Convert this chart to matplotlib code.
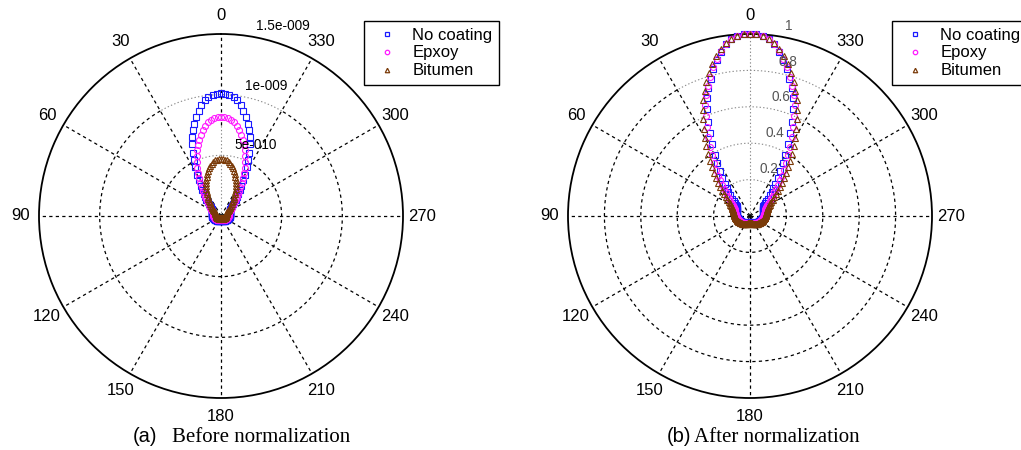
import numpy as np
import matplotlib
matplotlib.use("Agg")
import matplotlib.pyplot as plt
from matplotlib.lines import Line2D
import matplotlib.transforms as mtransforms

# ---------------------------------------------------------------- data
# Beam-pattern sample angles (degrees), 2 degree steps
angles_deg = np.arange(0, 360, 2)

# Normalised radiation patterns for each coating condition
no_coating = [
    1.000, 0.998, 0.990, 0.977, 0.952, 0.917, 0.877, 0.832, 0.785, 0.740,
    0.690, 0.635, 0.567, 0.505, 0.450, 0.390, 0.345, 0.297, 0.258, 0.225,
    0.200, 0.178, 0.157, 0.138, 0.121, 0.108, 0.097, 0.091, 0.087, 0.084,
    0.082, 0.081, 0.080, 0.079, 0.079, 0.078, 0.078, 0.077, 0.077, 0.076,
    0.076, 0.075, 0.075, 0.074, 0.074, 0.073, 0.072, 0.071, 0.070, 0.069,
    0.068, 0.067, 0.066, 0.065, 0.064, 0.063, 0.062, 0.061, 0.060, 0.059,
    0.058, 0.057, 0.056, 0.055, 0.054, 0.053, 0.052, 0.051, 0.050, 0.049,
    0.048, 0.047, 0.046, 0.045, 0.044, 0.043, 0.042, 0.041, 0.040, 0.040,
    0.039, 0.039, 0.038, 0.038, 0.037, 0.037, 0.036, 0.036, 0.036, 0.035,
    0.035,
    0.035, 0.036, 0.036, 0.036, 0.037, 0.037, 0.038, 0.038, 0.039, 0.039,
    0.040, 0.040, 0.041, 0.042, 0.043, 0.044, 0.045, 0.046, 0.047, 0.048,
    0.049, 0.050, 0.051, 0.052, 0.053, 0.054, 0.055, 0.056, 0.057, 0.058,
    0.059, 0.060, 0.061, 0.062, 0.063, 0.064, 0.065, 0.066, 0.067, 0.068,
    0.069, 0.070, 0.071, 0.072, 0.073, 0.074, 0.074, 0.075, 0.075, 0.076,
    0.076, 0.077, 0.077, 0.078, 0.078, 0.079, 0.079, 0.080, 0.081, 0.082,
    0.084, 0.087, 0.091, 0.097, 0.108, 0.121, 0.138, 0.157, 0.178, 0.200,
    0.225, 0.258, 0.297, 0.345, 0.390, 0.450, 0.505, 0.567, 0.635, 0.690,
    0.740, 0.785, 0.832, 0.877, 0.917, 0.952, 0.977, 0.990, 0.998,
]

epoxy = [
    1.000, 0.998, 0.990, 0.978, 0.955, 0.922, 0.884, 0.842, 0.797, 0.752,
    0.705, 0.655, 0.600, 0.545, 0.492, 0.440, 0.395, 0.352, 0.315, 0.282,
    0.255, 0.230, 0.207, 0.186, 0.167, 0.150, 0.137, 0.126, 0.117, 0.110,
    0.104, 0.099, 0.095, 0.092, 0.089, 0.087, 0.085, 0.084, 0.083, 0.082,
    0.081, 0.080, 0.079, 0.078, 0.077, 0.076, 0.075, 0.074, 0.073, 0.072,
    0.071, 0.070, 0.069, 0.068, 0.067, 0.066, 0.065, 0.064, 0.063, 0.062,
    0.061, 0.060, 0.059, 0.058, 0.057, 0.056, 0.055, 0.054, 0.053, 0.052,
    0.051, 0.050, 0.049, 0.048, 0.047, 0.046, 0.045, 0.044, 0.044, 0.043,
    0.043, 0.042, 0.042, 0.041, 0.041, 0.040, 0.040, 0.040, 0.040, 0.040,
    0.040,
    0.040, 0.040, 0.040, 0.040, 0.040, 0.041, 0.041, 0.042, 0.042, 0.043,
    0.043, 0.044, 0.044, 0.045, 0.046, 0.047, 0.048, 0.049, 0.050, 0.051,
    0.052, 0.053, 0.054, 0.055, 0.056, 0.057, 0.058, 0.059, 0.060, 0.061,
    0.062, 0.063, 0.064, 0.065, 0.066, 0.067, 0.068, 0.069, 0.070, 0.071,
    0.072, 0.073, 0.074, 0.075, 0.076, 0.077, 0.078, 0.079, 0.080, 0.081,
    0.082, 0.083, 0.084, 0.085, 0.087, 0.089, 0.092, 0.095, 0.099, 0.104,
    0.110, 0.117, 0.126, 0.137, 0.150, 0.167, 0.186, 0.207, 0.230, 0.255,
    0.282, 0.315, 0.352, 0.395, 0.440, 0.492, 0.545, 0.600, 0.655, 0.705,
    0.752, 0.797, 0.842, 0.884, 0.922, 0.955, 0.978, 0.990, 0.998,
]

bitumen = [
    1.000, 0.998, 0.991, 0.980, 0.960, 0.932, 0.898, 0.860, 0.818, 0.775,
    0.730, 0.685, 0.638, 0.590, 0.543, 0.495, 0.452, 0.412, 0.376, 0.342,
    0.310, 0.280, 0.252, 0.228, 0.205, 0.185, 0.168, 0.154, 0.142, 0.132,
    0.124, 0.118, 0.113, 0.109, 0.105, 0.102, 0.099, 0.097, 0.095, 0.093,
    0.091, 0.090, 0.089, 0.088, 0.087, 0.086, 0.085, 0.084, 0.083, 0.082,
    0.080, 0.079, 0.078, 0.077, 0.076, 0.074, 0.073, 0.072, 0.071, 0.070,
    0.068, 0.067, 0.066, 0.065, 0.064, 0.062, 0.061, 0.060, 0.059, 0.058,
    0.056, 0.055, 0.054, 0.053, 0.052, 0.050, 0.049, 0.048, 0.047, 0.046,
    0.045, 0.044, 0.043, 0.042, 0.041, 0.040, 0.039, 0.038, 0.038, 0.037,
    0.037,
    0.037, 0.038, 0.038, 0.039, 0.040, 0.041, 0.042, 0.043, 0.044, 0.045,
    0.046, 0.047, 0.048, 0.049, 0.050, 0.052, 0.053, 0.054, 0.055, 0.056,
    0.058, 0.059, 0.060, 0.061, 0.062, 0.064, 0.065, 0.066, 0.067, 0.068,
    0.070, 0.071, 0.072, 0.073, 0.074, 0.076, 0.077, 0.078, 0.079, 0.080,
    0.082, 0.083, 0.084, 0.085, 0.086, 0.087, 0.088, 0.089, 0.090, 0.091,
    0.093, 0.095, 0.097, 0.099, 0.102, 0.105, 0.109, 0.113, 0.118, 0.124,
    0.132, 0.142, 0.154, 0.168, 0.185, 0.205, 0.228, 0.252, 0.280, 0.310,
    0.342, 0.376, 0.412, 0.452, 0.495, 0.543, 0.590, 0.638, 0.685, 0.730,
    0.775, 0.818, 0.860, 0.898, 0.932, 0.960, 0.980, 0.991, 0.998,
]

# Peak (on-axis) amplitudes before normalisation
peak_values = [1.01e-9, 0.815e-9, 0.47e-9]

left_labels = ["No coating", "Epxoy", "Bitumen"]
right_labels = ["No coating", "Epoxy", "Bitumen"]

theta_ticks = list(range(0, 360, 30))
left_rings = [5e-10, 1e-9, 1.5e-9]
left_ring_labels = ["5e-010", "1e-009", "1.5e-009"]
right_rings = [0.2, 0.4, 0.6, 0.8, 1.0]
right_ring_labels = ["0.2", "0.4", "0.6", "0.8", "1"]

captions = [("(a)", "Before normalization"), ("(b)", "After normalization")]

# ---------------------------------------------------------------- style
SANS = "Liberation Sans"
SERIF = "Liberation Serif"
series_style = [
    dict(marker="s", color="#1a1aff"),
    dict(marker="o", color="#ff1aff"),
    dict(marker="^", color="#7a3a08"),
]

W, H = 1021, 450
fig = plt.figure(figsize=(W / 100, H / 100), dpi=100)

R_PX = 182
def axes_rect(cx, cy):
    return [(cx - R_PX) / W, (H - cy - R_PX) / H, 2 * R_PX / W, 2 * R_PX / H]

ax_l = fig.add_axes(axes_rect(221, 216), projection="polar")
ax_r = fig.add_axes(axes_rect(750, 216), projection="polar")

theta = np.deg2rad(angles_deg)
patterns = [np.asarray(no_coating), np.asarray(epoxy), np.asarray(bitumen)]
left_data = [p * pk for p, pk in zip(patterns, peak_values)]
right_data = patterns


def setup_polar(ax, rmax, rings, ring_labels, label_color, gray_spoke_r, label_size):
    ax.set_theta_zero_location("N")
    ax.set_theta_direction(1)
    ax.set_ylim(0, rmax)
    ax.set_xticks([])
    ax.set_yticks([])
    ax.grid(False)
    ax.spines["polar"].set_linewidth(1.3)
    ax.spines["polar"].set_color("black")

    dash = dict(color="black", lw=0.9, linestyle=(0, (2.6, 2.6)), zorder=1)
    dot = dict(color="#8a8a8a", lw=0.8, linestyle=(0, (1.2, 2.0)), zorder=1)

    # rings: grey dotted inside the +/-30 degree sector, dashed elsewhere
    for rv in rings[:-1]:
        t_out = np.deg2rad(np.linspace(30, 330, 400))
        ax.plot(t_out, np.full_like(t_out, rv), **dash)
        t_in = np.deg2rad(np.linspace(-30, 30, 120))
        ax.plot(t_in, np.full_like(t_in, rv), **dot)

    # spokes
    for a in theta_ticks:
        t = np.deg2rad(a)
        if a == 0:
            ax.plot([t, t], [0, gray_spoke_r], **dot)
            if gray_spoke_r < rmax:
                ax.plot([t, t], [gray_spoke_r, rmax], **dash)
        else:
            ax.plot([t, t], [0, rmax], **dash)

    # angle labels
    for a in theta_ticks:
        ax.text(np.deg2rad(a), rmax * 1.104, str(a), ha="center", va="center",
                fontsize=12, family=SANS, clip_on=False)

    # ring value labels
    offs = mtransforms.offset_copy(ax.transData, fig=fig, x=3, y=7, units="dots")
    for rv, lab in zip(rings, ring_labels):
        ax.text(np.deg2rad(-10), rv, lab, ha="left", va="baseline",
                fontsize=label_size, family=SANS, color=label_color,
                transform=offs, clip_on=False, zorder=4)


setup_polar(ax_l, 1.5e-9, left_rings, left_ring_labels, "black", 0.75e-9, 9.8)
setup_polar(ax_r, 1.0, right_rings, right_ring_labels, "#555555", 1.0, 9.8)


def draw_series(ax, data):
    for d, st in zip(data, series_style):
        ax.plot(theta, d, linestyle="none", marker=st["marker"], ms=4.3,
                mfc="none", mec=st["color"], mew=0.8, clip_on=False, zorder=3)


draw_series(ax_l, left_data)
draw_series(ax_r, right_data)


def add_legend(labels, x_left):
    handles = [Line2D([], [], linestyle="none", marker=st["marker"], ms=3.2,
                      mfc="none", mec=st["color"], mew=0.9)
               for st in series_style]
    leg = fig.legend(handles, labels, loc="upper left",
                     bbox_to_anchor=(x_left / W, 1 - 21 / H),
                     bbox_transform=fig.transFigure,
                     prop=dict(family=SANS, size=12), frameon=True,
                     fancybox=False, edgecolor="black", framealpha=1,
                     borderpad=0.4, labelspacing=0.17, handlelength=2.0,
                     handletextpad=0.5, borderaxespad=0)
    leg.get_frame().set_linewidth(1.0)
    return leg


add_legend(left_labels, 364)
add_legend(right_labels, 892)

# captions
for (tag, text), (x_tag, x_txt) in zip(captions, [(133, 172), (667, 694)]):
    fig.text(x_tag / W, 1 - 437 / H, tag, ha="left", va="center",
             family=SANS, fontsize=14.5)
    fig.text(x_txt / W, 1 - 437 / H, text, ha="left", va="center",
             family=SERIF, fontsize=15)

fig.savefig("out.png", dpi=100)
